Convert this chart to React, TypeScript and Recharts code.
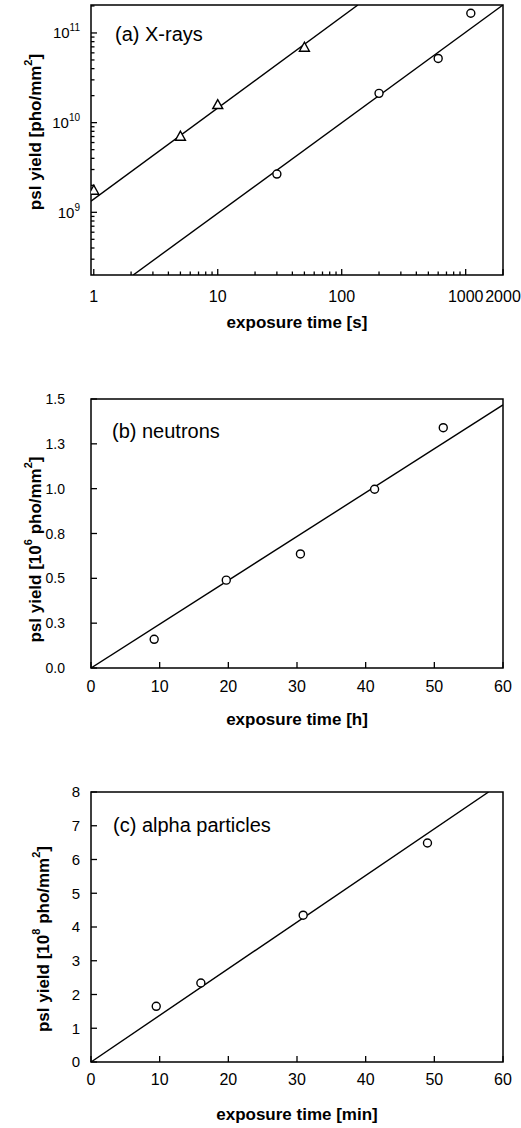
import React from 'react'
import { ComposedChart, Scatter, XAxis, YAxis, ReferenceArea, Label } from 'recharts'

// (a) X-rays, log-log
const xrayTriX = [1, 5, 10, 50]
const xrayTriY = [1.74e9, 6.97e9, 1.57e10, 6.84e10]
const xrayCircX = [30, 200, 600, 1100]
const xrayCircY = [2.67e9, 2.12e10, 5.2e10, 1.66e11]
const xrayFitUpperX = [0.95, 135]
const xrayFitUpperY = [1.33e9, 2.05e11]
const xrayFitLowerX = [2.08, 2000]
const xrayFitLowerY = [2e8, 2.05e11]
const xrayMajorX = [1, 10, 100, 1000, 2000]
const xrayMinorX = [2, 3, 4, 5, 6, 7, 8, 9, 20, 30, 40, 50, 60, 70, 80, 90, 200, 300, 400, 500, 600, 700, 800, 900]
const xrayMajorY = [1e9, 1e10, 1e11]
const xrayExpY = ['9', '10', '11']
const xrayMinorY = [3e8, 4e8, 5e8, 6e8, 7e8, 8e8, 9e8, 2e9, 3e9, 4e9, 5e9, 6e9, 7e9, 8e9, 9e9,
  2e10, 3e10, 4e10, 5e10, 6e10, 7e10, 8e10, 9e10, 2e11]

// (b) neutrons
const neutronX = [9.2, 19.7, 30.5, 41.3, 51.3]
const neutronY = [0.16, 0.49, 0.636, 0.997, 1.34]
const neutronFitX = [0, 60]
const neutronFitY = [0, 1.467]
const neutronTicksY = [0, 0.25, 0.5, 0.75, 1.0, 1.25, 1.5]
const neutronLabelsY = ['0.0', '0.3', '0.5', '0.8', '1.0', '1.3', '1.5']
const linearTicksX = [0, 10, 20, 30, 40, 50, 60]

// (c) alpha particles
const alphaX = [9.5, 16, 30.9, 49]
const alphaY = [1.65, 2.34, 4.35, 6.49]
const alphaFitX = [0, 57.9]
const alphaFitY = [0, 8]
const alphaTicksY = [0, 1, 2, 3, 4, 5, 6, 7, 8]

const FONT = '"Liberation Sans", Arial, Helvetica, sans-serif'
const zip = (xs: number[], ys: number[]) => xs.map((x, i) => ({ x, y: ys[i] }))

const openCircle = (p: any) => (
  <circle cx={p.cx} cy={p.cy} r={4} fill="#fff" stroke="#000" strokeWidth={1.4} />
)
const openTriangle = (p: any) => (
  <polygon
    points={`${p.cx},${p.cy - 5.5} ${p.cx - 5},${p.cy + 3.5} ${p.cx + 5},${p.cy + 3.5}`}
    fill="#fff" stroke="#000" strokeWidth={1.4}
  />
)
const noDot = () => <g />

const xTick = (majors: number[], fmt: (v: number) => string, gap: number) => (props: any) => {
  const { x, y, payload } = props
  const major = majors.includes(payload.value)
  const len = major ? 6 : 3.5
  return (
    <g>
      <line x1={x} x2={x} y1={y} y2={y - len} stroke="#000" strokeWidth={1.3} />
      {major && (
        <text x={x} y={y + gap} textAnchor="middle" fontSize={16} fontFamily={FONT} fill="#000">
          {fmt(payload.value)}
        </text>
      )}
    </g>
  )
}

const yTick = (majors: number[], render: (v: number) => React.ReactNode, gap: number, size: number) => (props: any) => {
  const { x, y, payload } = props
  const major = majors.includes(payload.value)
  const len = major ? 6 : 3.5
  return (
    <g>
      <line x1={x} x2={x + len} y1={y} y2={y} stroke="#000" strokeWidth={1.3} />
      {major && (
        <text x={x - gap} y={y + size * 0.36} textAnchor="end" fontSize={size} fontFamily={FONT} fill="#000">
          {render(payload.value)}
        </text>
      )}
    </g>
  )
}

const xTitle = (text: string, dy: number) => (p: any) => {
  const vb = p.viewBox
  return (
    <text x={vb.x + vb.width / 2} y={vb.y + dy} textAnchor="middle" fontSize={17} fontWeight="bold" fontFamily={FONT} fill="#000">
      {text}
    </text>
  )
}

const yTitle = (exp: string | null, cx: number, dy: number) => (p: any) => {
  const vb = p.viewBox
  const cy = vb.y + vb.height / 2 + dy
  return (
    <text
      x={cx} y={cy} transform={`rotate(-90 ${cx} ${cy})`} textAnchor="middle" dominantBaseline="central"
      fontSize={17} fontWeight="bold" fontFamily={FONT} fill="#000"
    >
      {exp ? (
        <>
          psl yield [10<tspan fontSize={11} dy={-7}>{exp}</tspan><tspan dy={7}>{' pho/mm'}</tspan>
          <tspan fontSize={11} dy={-7}>2</tspan><tspan dy={7}>]</tspan>
        </>
      ) : (
        <>
          psl yield [pho/mm<tspan fontSize={11} dy={-7}>2</tspan><tspan dy={7}>]</tspan>
        </>
      )}
    </text>
  )
}

const annotation = (text: string, dx: number, dy: number) => (p: any) => {
  const vb = p.viewBox
  return (
    <text x={vb.x + dx} y={vb.y + dy} fontSize={20} fontFamily={FONT} fill="#000">
      {text}
    </text>
  )
}

const frame = { fill: 'none', stroke: '#000', strokeWidth: 1.5, fillOpacity: 0 }
const fitLine = { stroke: '#000', strokeWidth: 1.4 }

function XrayPanel() {
  const xDomain: [number, number] = [0.95, 2000]
  const yDomain: [number, number] = [2e8, 2.05e11]
  return (
    <ComposedChart width={521} height={340} margin={{ top: 5, right: 18, bottom: 0, left: 0 }}>
      <XAxis
        type="number" dataKey="x" scale="log" domain={xDomain} allowDataOverflow
        ticks={[...xrayMajorX, ...xrayMinorX]} interval={0} height={65}
        axisLine={false} tickLine={false} tickSize={0} tickMargin={0}
        tick={xTick(xrayMajorX, (v) => String(v), 27)}
      >
        <Label content={xTitle('exposure time [s]', 53)} />
      </XAxis>
      <YAxis
        type="number" dataKey="y" scale="log" domain={yDomain} allowDataOverflow
        ticks={[...xrayMajorY, ...xrayMinorY]} interval={0} width={91}
        axisLine={false} tickLine={false} tickSize={0} tickMargin={0}
        tick={yTick(xrayMajorY, (v) => (
          <>
            10<tspan fontSize={10} dy={-7}>{xrayExpY[xrayMajorY.indexOf(v)]}</tspan>
          </>
        ), 11, 15)}
      >
        <Label content={yTitle(null, 35, -8)} />
      </YAxis>
      <ReferenceArea x1={xDomain[0]} x2={xDomain[1]} y1={yDomain[0]} y2={yDomain[1]} {...frame}
        label={<Label content={annotation('(a) X-rays', 24, 36)} />} />
      <Scatter data={zip(xrayFitUpperX, xrayFitUpperY)} line={fitLine} shape={noDot} isAnimationActive={false} />
      <Scatter data={zip(xrayFitLowerX, xrayFitLowerY)} line={fitLine} shape={noDot} isAnimationActive={false} />
      <Scatter data={zip(xrayTriX, xrayTriY)} shape={openTriangle} isAnimationActive={false} />
      <Scatter data={zip(xrayCircX, xrayCircY)} shape={openCircle} isAnimationActive={false} />
    </ComposedChart>
  )
}

function NeutronPanel() {
  return (
    <ComposedChart width={521} height={360} margin={{ top: 19, right: 18, bottom: 0, left: 0 }}>
      <XAxis
        type="number" dataKey="x" domain={[0, 60]} allowDataOverflow ticks={linearTicksX} interval={0} height={72}
        axisLine={false} tickLine={false} tickSize={0} tickMargin={0}
        tick={xTick(linearTicksX, (v) => String(v), 24)}
      >
        <Label content={xTitle('exposure time [h]', 57)} />
      </XAxis>
      <YAxis
        type="number" dataKey="y" domain={[0, 1.5]} allowDataOverflow ticks={neutronTicksY} interval={0} width={91}
        axisLine={false} tickLine={false} tickSize={0} tickMargin={0}
        tick={yTick(neutronTicksY, (v) => neutronLabelsY[neutronTicksY.indexOf(v)], 26, 14)}
      >
        <Label content={yTitle('6', 35, 16)} />
      </YAxis>
      <ReferenceArea x1={0} x2={60} y1={0} y2={1.5} {...frame}
        label={<Label content={annotation('(b) neutrons', 21, 39)} />} />
      <Scatter data={zip(neutronFitX, neutronFitY)} line={fitLine} shape={noDot} isAnimationActive={false} />
      <Scatter data={zip(neutronX, neutronY)} shape={openCircle} isAnimationActive={false} />
    </ComposedChart>
  )
}

function AlphaPanel() {
  return (
    <ComposedChart width={521} height={358} margin={{ top: 22, right: 18, bottom: 0, left: 0 }}>
      <XAxis
        type="number" dataKey="x" domain={[0, 60]} allowDataOverflow ticks={linearTicksX} interval={0} height={66}
        axisLine={false} tickLine={false} tickSize={0} tickMargin={0}
        tick={xTick(linearTicksX, (v) => String(v), 23)}
      >
        <Label content={xTitle('exposure time [min]', 58)} />
      </XAxis>
      <YAxis
        type="number" dataKey="y" domain={[0, 8]} allowDataOverflow ticks={alphaTicksY} interval={0} width={91}
        axisLine={false} tickLine={false} tickSize={0} tickMargin={0}
        tick={yTick(alphaTicksY, (v) => String(v), 11, 15)}
      >
        <Label content={yTitle('8', 43, 12)} />
      </YAxis>
      <ReferenceArea x1={0} x2={60} y1={0} y2={8} {...frame}
        label={<Label content={annotation('(c) alpha particles', 22, 40)} />} />
      <Scatter data={zip(alphaFitX, alphaFitY)} line={fitLine} shape={noDot} isAnimationActive={false} />
      <Scatter data={zip(alphaX, alphaY)} shape={openCircle} isAnimationActive={false} />
    </ComposedChart>
  )
}

export default function App() {
  return (
    <div style={{ position: 'absolute', left: 0, top: 0, width: 521, height: 1128, background: '#fff', fontFamily: FONT }}>
      <div style={{ position: 'absolute', left: 0, top: 0 }}>
        <XrayPanel />
      </div>
      <div style={{ position: 'absolute', left: 0, top: 380 }}>
        <NeutronPanel />
      </div>
      <div style={{ position: 'absolute', left: 0, top: 770 }}>
        <AlphaPanel />
      </div>
    </div>
  )
}
